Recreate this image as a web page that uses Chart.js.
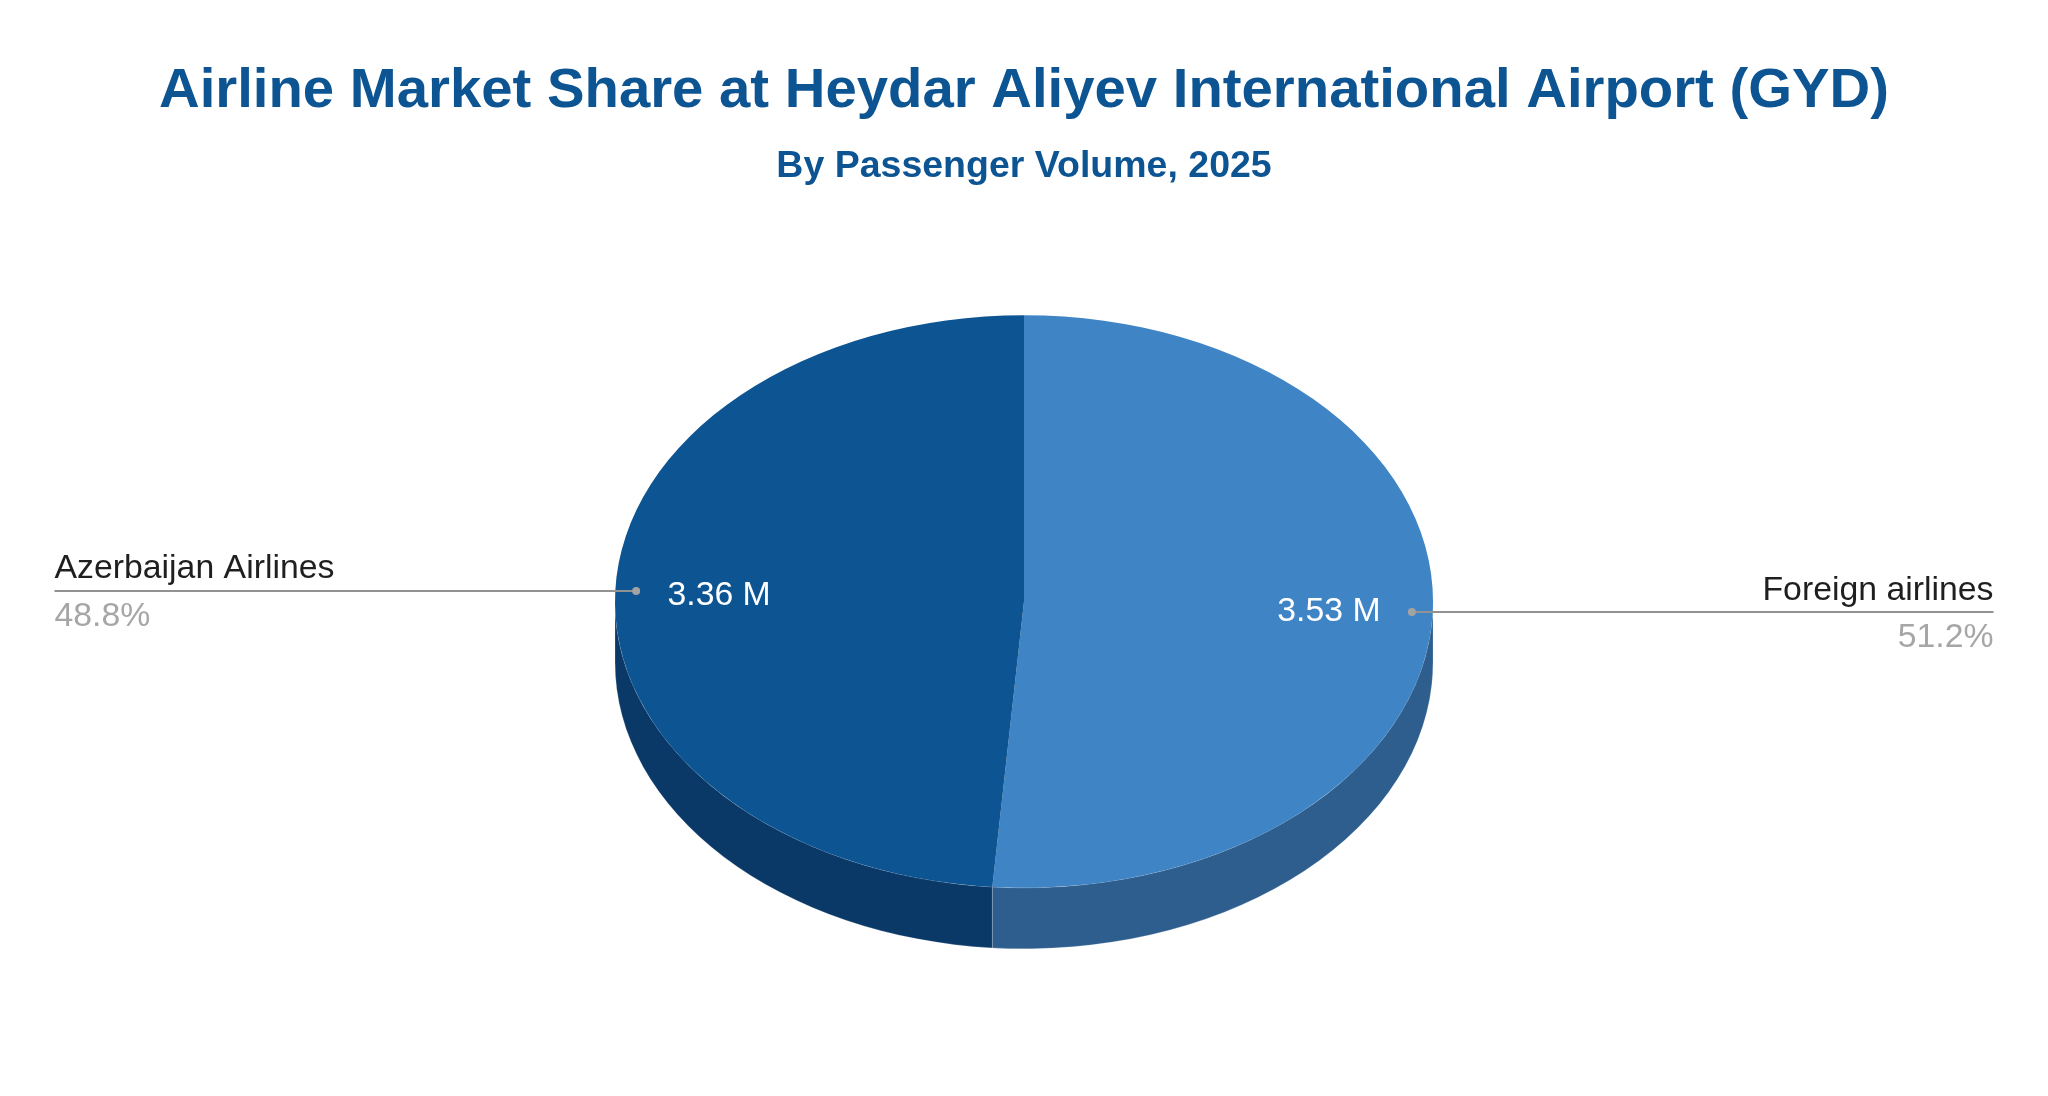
<!DOCTYPE html>
<html>
<head>
<meta charset="utf-8">
<title>Airline Market Share at Heydar Aliyev International Airport (GYD)</title>
<script src="https://cdn.jsdelivr.net/npm/chart.js@4"></script>
<style>
  html, body { margin: 0; padding: 0; background: #ffffff; }
  canvas { display: block; }
</style>
</head>
<body>
<canvas id="myChart" width="2048" height="1096"></canvas>
<script>
// chart data
const airlineLabels = ['Foreign airlines', 'Azerbaijan Airlines'];
const passengerValues = [3.53, 3.36];
const topColors = ['#3f84c5', '#0d5493'];
const sideColors = ['#2d5e8e', '#0a3968'];

const titleText = 'Airline Market Share at Heydar Aliyev International Airport (GYD)';
const subtitleText = 'By Passenger Volume, 2025';

const FONT = '"Liberation Sans", Arial, sans-serif';
const TILT = 0.7;        // pie is squashed to this height ratio
const DEPTH = 61;        // wall height in px
const DOT_RADIUS = 0.949;
const VALUE_RADIUS = 0.746;
const LINE_LEFT = 54.5;
const LINE_RIGHT = 1993.5;

// side wall, only the part of each slice facing the viewer
function drawWalls(chart) {
  const ctx = chart.ctx;
  chart.getDatasetMeta(0).data.forEach((arc, i) => {
    const a0 = Math.max(arc.startAngle, 0);
    const a1 = Math.min(arc.endAngle, Math.PI);
    if (a1 <= a0) return;
    const rx = arc.outerRadius;
    const ry = rx * TILT;
    ctx.beginPath();
    ctx.ellipse(arc.x, arc.y, rx, ry, 0, a0, a1);
    ctx.ellipse(arc.x, arc.y + DEPTH, rx, ry, 0, a1, a0, true);
    ctx.closePath();
    ctx.fillStyle = sideColors[i];
    ctx.fill();
    ctx.strokeStyle = 'rgba(255,255,255,0.2)';
    ctx.lineWidth = 1;
    ctx.stroke();
  });
}

function drawLabels(chart) {
  const ctx = chart.ctx;
  const total = passengerValues.reduce((a, b) => a + b, 0);
  chart.getDatasetMeta(0).data.forEach((arc, i) => {
    const mid = (arc.startAngle + arc.endAngle) / 2;
    const cos = Math.cos(mid);
    const sin = Math.sin(mid);
    const r = arc.outerRadius;
    const dotX = arc.x + r * DOT_RADIUS * cos;
    const dotY = arc.y + r * DOT_RADIUS * sin * TILT;
    const onRight = cos > 0;
    const endX = onRight ? LINE_RIGHT : LINE_LEFT;

    // leader line
    ctx.beginPath();
    ctx.moveTo(dotX, dotY);
    ctx.lineTo(endX, dotY);
    ctx.strokeStyle = '#929292';
    ctx.lineWidth = 2;
    ctx.stroke();
    ctx.beginPath();
    ctx.arc(dotX, dotY, 4, 0, Math.PI * 2);
    ctx.fillStyle = '#a3a3a3';
    ctx.fill();

    // name above, percent under the line
    ctx.textAlign = onRight ? 'right' : 'left';
    ctx.textBaseline = 'alphabetic';
    ctx.font = '33.8px ' + FONT;
    ctx.fillStyle = '#1f1f1f';
    ctx.fillText(airlineLabels[i], endX, dotY - 12.5);
    ctx.fillStyle = '#a6a6a6';
    ctx.fillText((passengerValues[i] / total * 100).toFixed(1) + '%', endX, dotY + 35);

    // value on the slice
    ctx.textAlign = 'center';
    ctx.textBaseline = 'middle';
    ctx.fillStyle = '#ffffff';
    ctx.fillText(passengerValues[i].toFixed(2) + ' M',
      arc.x + r * VALUE_RADIUS * cos, arc.y + r * VALUE_RADIUS * sin * TILT + 2);
  });
}

const tiltPlugin = {
  id: 'tilt',
  beforeDatasetsDraw(chart) {
    const arc = chart.getDatasetMeta(0).data[0];
    const ctx = chart.ctx;
    drawWalls(chart);
    ctx.save();
    ctx.translate(arc.x, arc.y);
    ctx.scale(1, TILT);
    ctx.translate(-arc.x, -arc.y);
  },
  afterDatasetsDraw(chart) {
    chart.ctx.restore();
    drawLabels(chart);
  }
};

new Chart(document.getElementById('myChart').getContext('2d'), {
  type: 'pie',
  data: {
    labels: airlineLabels,
    datasets: [{
      data: passengerValues,
      backgroundColor: topColors,
      borderWidth: 0
    }]
  },
  options: {
    responsive: false,
    devicePixelRatio: 1,
    animation: false,
    layout: { padding: { bottom: 85.5 } },
    plugins: {
      legend: { display: false },
      tooltip: { enabled: false },
      title: {
        display: true,
        text: titleText,
        color: '#0d5493',
        font: { family: FONT, size: 56.3, weight: 'bold', lineHeight: 1.2 },
        padding: { top: 58, bottom: 8 }
      },
      subtitle: {
        display: true,
        text: subtitleText,
        color: '#0d5493',
        font: { family: FONT, size: 37.5, weight: 'bold', lineHeight: 1.2 },
        padding: { top: 10.74, bottom: 3.2 }
      }
    }
  },
  plugins: [tiltPlugin]
});
</script>
</body>
</html>
